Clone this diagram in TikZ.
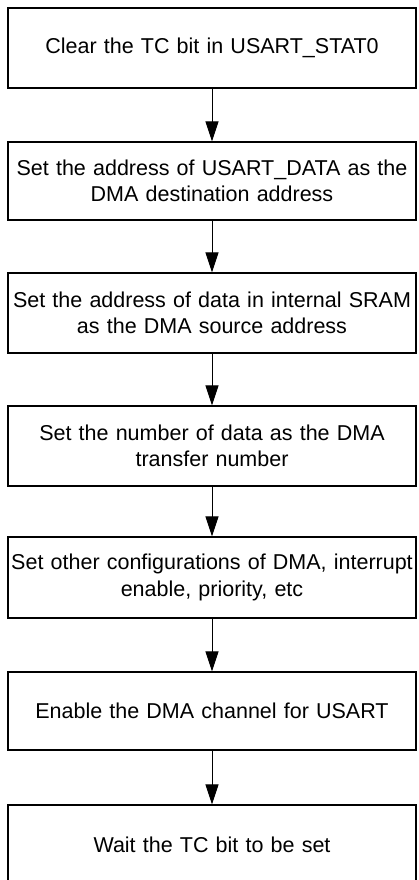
\documentclass[tikz,border=0pt]{standalone}
\usepackage{fontspec}
\setmainfont{Liberation Sans}
\usetikzlibrary{arrows.meta}
\begin{document}
\begin{tikzpicture}[x=1pt,y=1pt,
  stepbox/.style={draw=black, line width=1.2pt, fill=white, minimum width=408pt,
    text width=404pt, inner sep=2pt, align=center,
    font=\fontsize{21.5pt}{26.5pt}\selectfont},
  flow/.style={draw=black, line width=1pt, -{Triangle[length=20pt,width=13pt]}}]
\clip (0,0) rectangle (418,-880);
\fill[white] (0,0) rectangle (418,-880);
\node[stepbox, minimum height=80pt] (b1) at (212,-48) {Clear the TC bit in USART\_STAT0};
\node[stepbox, minimum height=78pt] (b2) at (212,-181) {Set the address of USART\_DATA as the\\DMA destination address};
\node[stepbox, minimum height=80pt] (b3) at (212,-313) {Set the address of data in internal SRAM\\as the DMA source address};
\node[stepbox, minimum height=80pt] (b4) at (212,-446) {Set the number of data as the DMA\\transfer number};
\node[stepbox, minimum height=81pt] (b5) at (212,-577.5) {Set other configurations of DMA, interrupt\\enable, priority, etc};
\node[stepbox, minimum height=78pt] (b6) at (212,-711) {Enable the DMA channel for USART};
\node[stepbox, minimum height=80pt] (b7) at (212,-845) {Wait the TC bit to be set};
\draw[flow] (b1) -- (b2);
\draw[flow] (b2) -- (b3);
\draw[flow] (b3) -- (b4);
\draw[flow] (b4) -- (b5);
\draw[flow] (b5) -- (b6);
\draw[flow] (b6) -- (b7);
\end{tikzpicture}
\end{document}
